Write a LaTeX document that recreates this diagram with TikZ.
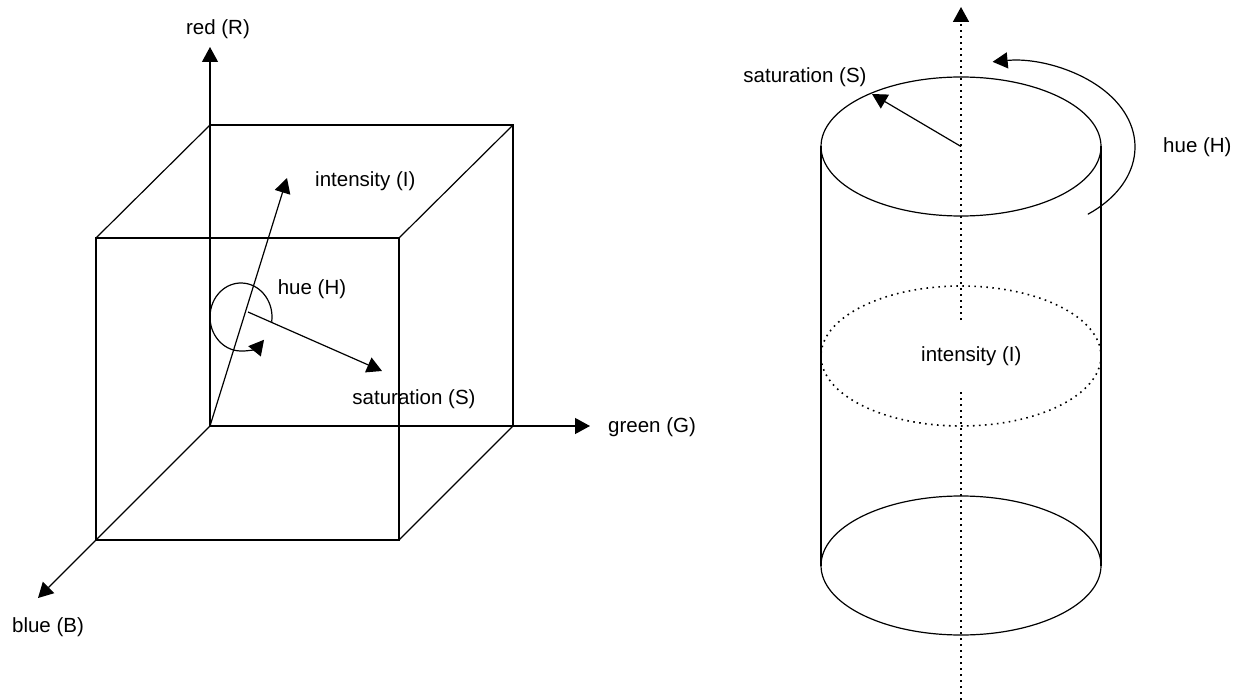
\documentclass[tikz,border=0pt]{standalone}
\usepackage{fontspec}
\setmainfont{Liberation Sans}
\usetikzlibrary{arrows.meta}
\begin{document}
\begin{tikzpicture}[x=1pt,y=-1pt,
  ln/.style={line width=1.2pt, line join=miter},
  arr/.style={ln,-{Triangle[length=15pt,width=16pt]}},
  dotline/.style={line width=1.6pt, dash pattern=on 1.6pt off 4.4pt},
  lbl/.style={inner sep=0pt, font=\fontsize{20.5}{24}\selectfont}]
\useasboundingbox (0,0) rectangle (1241,700);
% ---------- cube ----------
\coordinate (O) at (210,426);
\coordinate (btl) at (210,125);
\coordinate (btr) at (513,125);
\coordinate (bbr) at (513,426);
\coordinate (ftl) at (96,238);
\coordinate (ftr) at (399,238);
\coordinate (fbl) at (96,540);
\coordinate (fbr) at (399,540);
\coordinate (rtip) at (210,47);
\coordinate (gtip) at (590,426);
\coordinate (btip) at (38,598);
\coordinate (itip) at (287,178);
\coordinate (hc) at (241,317);
\coordinate (sst) at (248,312);
\coordinate (stip) at (382,371);
\draw[ln] (ftl) -- (ftr) -- (fbr) -- (fbl) -- cycle;
\draw[ln] (btl) -- (btr) -- (bbr);
\draw[ln] (btl) -- (ftl);
\draw[ln] (btr) -- (ftr);
\draw[ln] (bbr) -- (fbr);
\draw[arr] (O) -- (rtip);
\draw[arr] (O) -- (gtip);
\draw[arr] (O) -- (btip);
\draw[arr] (O) -- (itip);
\draw[arr] (sst) -- (stip);
\draw[arr] (hc) ++(8:31 and 34) arc[start angle=8, end angle=-318, x radius=31, y radius=34];
\node[lbl] (lred) at (218,29) {red (R)};
\node[lbl, anchor=west] (lgreen) at (608,427) {green (G)};
\node[lbl] (lblue) at (48,627) {blue (B)};
\node[lbl, anchor=west] (lint1) at (315,181) {intensity (I)};
\node[lbl] (lhue1) at (312,289) {hue (H)};
\node[lbl] (lsat1) at (414,399) {saturation (S)};
% ---------- cylinder ----------
\coordinate (ct) at (961,146.5);
\coordinate (cm) at (961,356);
\coordinate (cb) at (961,565.5);
\coordinate (tl) at (821,146.5);
\coordinate (tr) at (1101,146.5);
\coordinate (bl) at (821,565.5);
\coordinate (br) at (1101,565.5);
\coordinate (axb) at (961,700);
\coordinate (axm1) at (961,391);
\coordinate (axm2) at (961,320);
\coordinate (axt) at (961,7);
\coordinate (cstip) at (872,94);
\coordinate (hc2) at (1010,147);
\draw[dotline] (axb) -- (axm1);
\draw[dotline, -{Triangle[length=15pt,width=16pt]}] (axm2) -- (axt);
\draw[ln] (ct) ellipse[x radius=140, y radius=69.5];
\draw[dotline] (cm) ellipse[x radius=140, y radius=70];
\draw[ln] (cb) ellipse[x radius=140, y radius=69.5];
\draw[ln] (tl) -- (bl);
\draw[ln] (tr) -- (br);
\draw[arr] (ct) -- (cstip);
\draw[arr] (hc2) ++(51.5:125 and 86) arc[start angle=51.5, end angle=-98, x radius=125, y radius=86];
\node[lbl] (lsat2) at (805,77) {saturation (S)};
\node[lbl, anchor=west] (lhue2) at (1163,147) {hue (H)};
\node[lbl, anchor=west] (lint2) at (921,356) {intensity (I)};
\end{tikzpicture}
\end{document}
